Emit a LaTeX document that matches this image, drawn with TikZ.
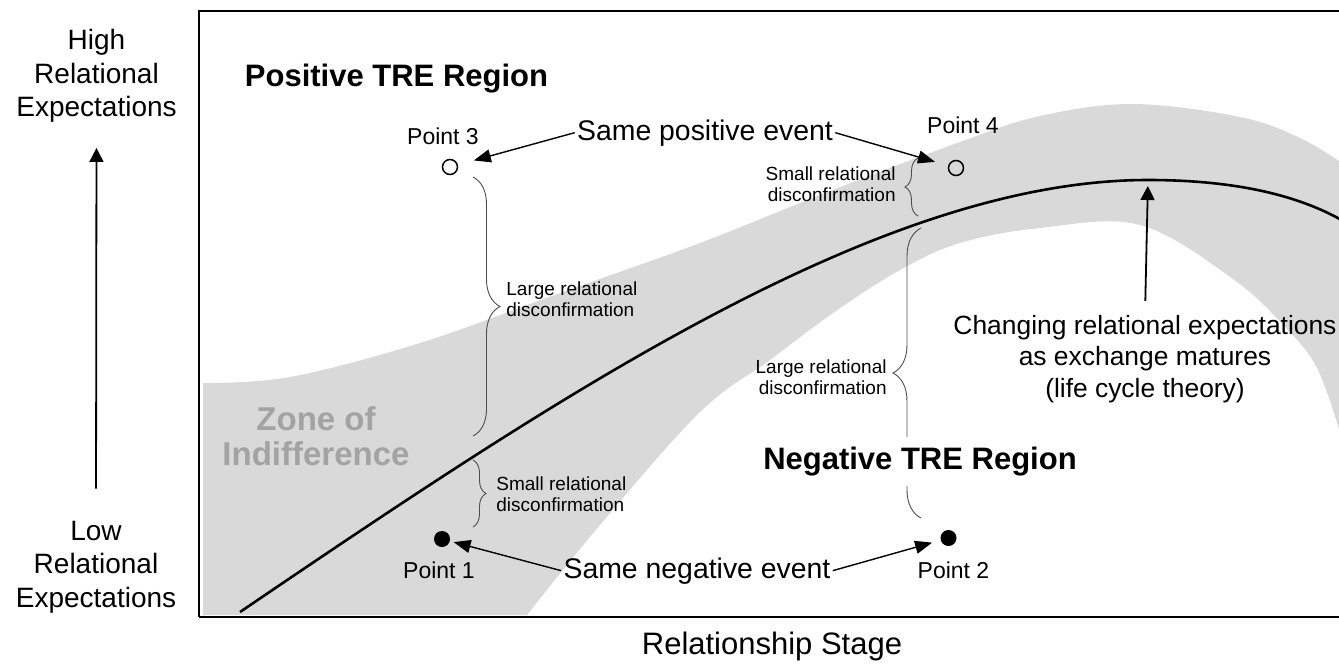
\documentclass[tikz,border=0pt]{standalone}
\usepackage{fontspec}
\setmainfont{Liberation Sans}
\usetikzlibrary{arrows.meta}
\usetikzlibrary{decorations.pathreplacing}

\definecolor{bandgray}{gray}{0.85}
\definecolor{zonegray}{gray}{0.64}
\definecolor{bracegray}{gray}{0.3}

\tikzset{
  axislbl/.style={align=center, inner sep=0pt, font=\fontsize{14}{16.75}\selectfont},
  region/.style={inner sep=0pt, font=\bfseries\fontsize{15.5}{18}\selectfont},
  eventlbl/.style={inner sep=1pt, font=\fontsize{14.2}{17}\selectfont},
  ptlbl/.style={inner sep=0pt, font=\fontsize{11.5}{13}\selectfont},
  note/.style={inner sep=0pt, font=\fontsize{9.5}{10.5}\selectfont},
  opendot/.style={circle, draw, line width=0.75pt, minimum size=7.5pt, inner sep=0pt, outer sep=0pt},
  fulldot/.style={circle, fill, minimum size=8pt, inner sep=0pt, outer sep=0pt},
  evarrow/.style={-{Triangle[length=8.5pt,width=6.5pt]}, line width=0.7pt},
  axarrow/.style={-{Triangle[length=7pt,width=7pt]}, line width=0.9pt},
  bracket/.style={decorate, decoration={brace, amplitude=#1}, line width=0.45pt, bracegray}
}

\begin{document}
\begin{tikzpicture}[x=0.5pt,y=-0.5pt]
\useasboundingbox (0,0) rectangle (1339,664);

% zone of indifference
\fill[bandgray] plot[smooth, tension=0.6] coordinates {(203,383) (290,377) (420,343) (560,293) (700,243) (830,191) (960,142) (1040,116) (1133,104) (1240,117) (1300,138) (1345,165)}
  -- (1345,440)
  -- plot[smooth, tension=0.6] coordinates {(1339,429) (1317,368) (1287,329) (1233,279) (1140,225) (1040,228) (960,243) (900,270) (833,313) (770,360) (700,412) (600,525) (527,615)}
  -- (203,615) -- cycle;

% frame
\draw[line width=0.9pt] (1345,11) -- (199,11) -- (199,617);
\draw[line width=1.4pt] (199,617) -- (1345,617);

% life cycle curve
\draw[line width=1.3pt] (240,612) .. controls (560,395) and (880,180) .. (1148,180)
  .. controls (1222,180) and (1292,191) .. (1345,222);
\coordinate (peak) at (1148,180);

% braces
\draw[bracket=13.5pt] (473,177) -- (473,436);
\draw[bracket=6.5pt] (473,460) -- (473,527);
\draw[bracket=6.5pt] (918,216) -- (918,158);
\draw[bracket=14pt] (921,518) -- (921,228);

% axis labels
\node[axislbl] (high) at (96.5,76) {High\\Relational\\Expectations};
\node[axislbl] (low) at (96,567) {Low\\Relational\\Expectations};
\draw[axarrow, shorten <=16pt, shorten >=12.5pt] (low.north) -- (high.south);
\node[anchor=base, inner sep=0pt, font=\fontsize{15.5}{18}\selectfont] (stage) at (772,654) {Relationship Stage};

% regions
\node[region, anchor=base] (posreg) at (396.5,86) {Positive TRE Region};
\node[region, anchor=base, fill=white, inner xsep=2pt, inner ysep=5pt] (negreg) at (920,469) {Negative TRE Region};
\node[align=center, inner sep=0pt, text=zonegray, font=\bfseries\fontsize{16.5}{17.5}\selectfont] (zone) at (316,436) {Zone of\\Indifference};

% points
\node[opendot] (p3) at (450,167) {};
\node[opendot] (p4) at (956,168) {};
\node[fulldot] (p1) at (442,539) {};
\node[fulldot] (p2) at (948.5,538) {};
\node[ptlbl, anchor=base] (p3lbl) at (443,144) {Point 3};
\node[ptlbl, anchor=base] (p4lbl) at (963,133) {Point 4};
\node[ptlbl, anchor=base] (p1lbl) at (439,578) {Point 1};
\node[ptlbl, anchor=base] (p2lbl) at (953.5,578) {Point 2};

% events
\node[eventlbl, anchor=base] (samepos) at (705,140) {Same positive event};
\node[eventlbl, anchor=base] (sameneg) at (697,578) {Same negative event};
\draw[evarrow, shorten >=8.6pt] (samepos.west) -- (p3);
\draw[evarrow, shorten >=7.2pt] (samepos.east) -- (p4);
\draw[evarrow, shorten >=2pt] (sameneg.west) -- (p1);
\draw[evarrow, shorten >=4.5pt] (sameneg.east) -- (p2);

% disconfirmation notes
\node[note, align=left, anchor=west] (lgleft) at (506,299) {Large relational\\disconfirmation};
\node[note, align=left, anchor=west] (smleft) at (496,494) {Small relational\\disconfirmation};
\node[note, align=right, anchor=east] (smright) at (896,184) {Small relational\\disconfirmation};
\node[note, align=right, anchor=east] (lgright) at (887,377) {Large relational\\disconfirmation};

% life cycle label
\node[align=center, inner sep=0pt, font=\fontsize{13.2}{15.75}\selectfont] (change) at (1145,359) {Changing relational expectations\\as exchange matures\\(life cycle theory)};
\draw[axarrow, shorten <=7pt, shorten >=3pt] (change.north) -- (peak);
\end{tikzpicture}
\end{document}
